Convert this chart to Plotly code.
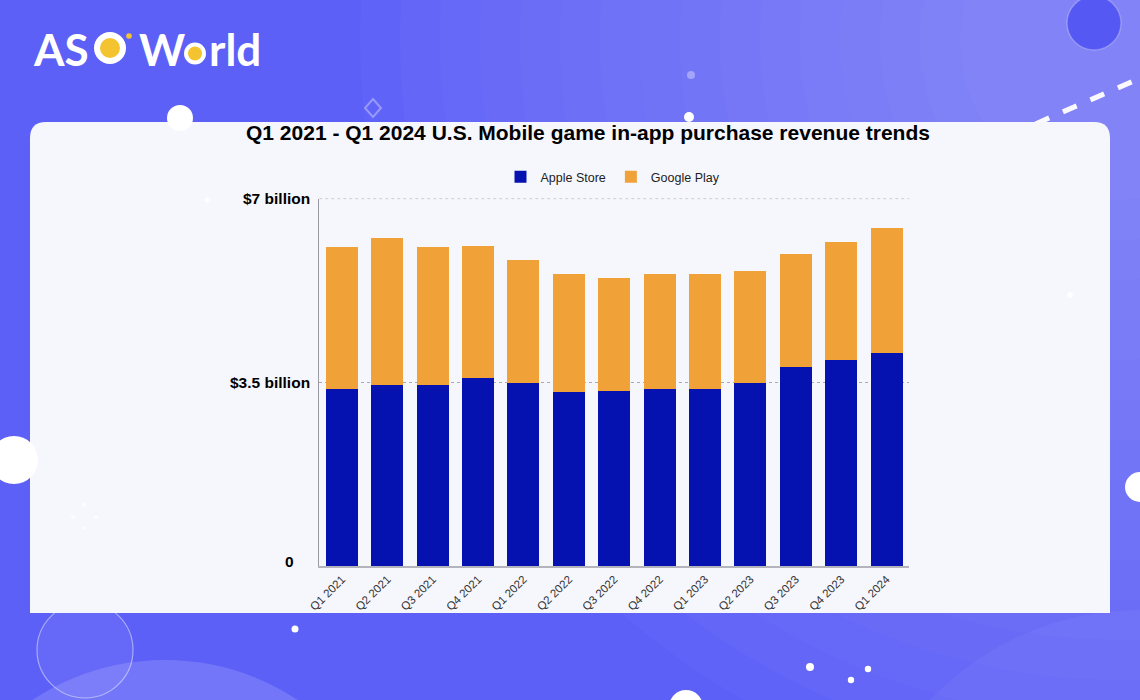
import plotly.graph_objects as go

W, H = 1140, 700

quarters = ["Q1 2021", "Q2 2021", "Q3 2021", "Q4 2021", "Q1 2022", "Q2 2022", "Q3 2022",
            "Q4 2022", "Q1 2023", "Q2 2023", "Q3 2023", "Q4 2023", "Q1 2024"]
apple_store = [3.38, 3.44, 3.44, 3.59, 3.49, 3.32, 3.33, 3.37, 3.37, 3.49, 3.80, 3.93, 4.05]
google_play = [2.70, 2.81, 2.63, 2.51, 2.34, 2.25, 2.15, 2.20, 2.20, 2.14, 2.15, 2.25, 2.39]
y_tick_vals = [0, 3.5, 7]
y_tick_text = ["0", "$3.5 billion", "$7 billion"]
title_text = "Q1 2021 - Q1 2024 U.S. Mobile game in-app purchase revenue trends"

BLUE = "#0612b0"
ORANGE = "#f0a238"
GRID = "#a9a9b4"
ARIAL = "Liberation Sans, Arial, sans-serif"


def px(x):
    return x / W


def py(y):
    return 1 - y / H


fig = go.Figure()
fig.add_trace(go.Bar(x=quarters, y=apple_store, name="Apple Store", marker_color=BLUE,
                     marker_line_width=0))
fig.add_trace(go.Bar(x=quarters, y=google_play, name="Google Play", marker_color=ORANGE,
                     marker_line_width=0))

shapes = []


def circle(cx, cy, r, fill, line_color=None, line_width=0, layer="below"):
    shapes.append(dict(type="circle", xref="paper", yref="paper",
                       x0=px(cx - r), x1=px(cx + r), y0=py(cy + r), y1=py(cy - r),
                       fillcolor=fill, line=dict(color=line_color or "rgba(0,0,0,0)", width=line_width),
                       layer=layer))


# background glow (approximate gradient)
for r in range(760, 150, -40):
    circle(1120, 40, r, "rgba(255,255,255,0.018)")
# bottom decorations
circle(1140, 900, 290, "rgba(255,255,255,0.04)")
circle(165, 900, 240, "rgba(255,255,255,0.14)")
circle(85, 650, 48, "rgba(255,255,255,0.06)", "rgba(255,255,255,0.45)", 1.2)
# top-right dark circle
circle(1094, 23, 27, "#5558f2", "rgba(255,255,255,0.25)", 1.5)
# dashed line
shapes.append(dict(type="line", xref="paper", yref="paper", x0=px(953), y0=py(160), x1=px(1145), y1=py(76),
                   line=dict(color="rgba(255,255,255,0.95)", width=5, dash="dash"), layer="below"))
# diamond outline
shapes.append(dict(type="path", xref="paper", yref="paper",
                   path="M %f,%f L %f,%f L %f,%f L %f,%f Z" % (px(373), py(99), px(381), py(108), px(373), py(117), px(365), py(108)),
                   line=dict(color="rgba(255,255,255,0.35)", width=2), fillcolor="rgba(0,0,0,0)", layer="below"))

# card with rounded top corners
x0c, x1c, y0c, y1c, rc = 30, 1110, 122, 613, 16
card_path = ("M %f,%f L %f,%f Q %f,%f %f,%f L %f,%f Q %f,%f %f,%f L %f,%f Z" % (
    px(x0c), py(y1c), px(x0c), py(y0c + rc), px(x0c), py(y0c), px(x0c + rc), py(y0c),
    px(x1c - rc), py(y0c), px(x1c), py(y0c), px(x1c), py(y0c + rc), px(x1c), py(y1c)))
shapes.append(dict(type="path", xref="paper", yref="paper", path=card_path,
                   fillcolor="#f6f7fd", line=dict(width=0), layer="below"))

# top dotted gridline (at the top of the value range)
shapes.append(dict(type="line", xref="x domain", yref="y", x0=0, x1=1,
                   y0=y_tick_vals[-1], y1=y_tick_vals[-1],
                   line=dict(color=GRID, width=1, dash="dot"), layer="below"))

# white dots
circle(180, 118, 13, "#ffffff")
circle(14, 460, 24, "#ffffff")
circle(1140, 487, 15, "#ffffff")
circle(686, 707, 17, "#ffffff")
circle(295, 629, 3.5, "#ffffff")
circle(810, 667, 4, "#ffffff")
circle(868, 669, 3.2, "#ffffff")
circle(851, 680, 3.2, "#ffffff")
circle(689, 117, 5, "#ffffff")
circle(691, 75, 4, "rgba(255,255,255,0.35)")
circle(84, 505, 2.2, "rgba(255,255,255,0.6)")
circle(73, 517, 2.2, "rgba(255,255,255,0.6)")
circle(96, 517, 2.2, "rgba(255,255,255,0.6)")
circle(84, 528, 2.2, "rgba(255,255,255,0.6)")
circle(1070, 295, 3, "rgba(255,255,255,0.8)")
circle(207, 200, 2.5, "rgba(255,255,255,0.8)")

# logo rings
circle(110, 48, 13, "#f4c430", "#ffffff", 6, layer="above")
circle(129, 36, 2.8, "#f4c430", layer="above")
circle(195, 53.5, 9, "#f4c430", "#ffffff", 4, layer="above")

annotations = []
LOGO = "Lato, Open Sans, sans-serif"
annotations.append(dict(text="<b>AS</b>", xref="paper", yref="paper", x=px(31), y=py(49),
                        xanchor="left", yanchor="middle", showarrow=False,
                        font=dict(family=LOGO, size=44, color="#ffffff")))
annotations.append(dict(text="<b>W</b>", xref="paper", yref="paper", x=px(137), y=py(49),
                        xanchor="left", yanchor="middle", showarrow=False,
                        font=dict(family=LOGO, size=44, color="#ffffff")))
annotations.append(dict(text="<b>rld</b>", xref="paper", yref="paper", x=px(207), y=py(49),
                        xanchor="left", yanchor="middle", showarrow=False,
                        font=dict(family=LOGO, size=44, color="#ffffff")))

# title
annotations.append(dict(text="<b>" + title_text + "</b>", xref="paper", yref="paper",
                        x=px(587.5), y=py(133), xanchor="center", yanchor="middle", showarrow=False,
                        font=dict(family=ARIAL, size=21, color="#000000")))

# y tick labels
for v, t in zip(y_tick_vals, y_tick_text):
    annotations.append(dict(text="<b>" + t + "</b>", xref="paper", yref="y", x=px(312), y=v,
                            xanchor="right", yanchor="middle", showarrow=False,
                            xshift=-16 if v == 0 else 0, yshift=5 if v == 0 else 0,
                            font=dict(family=ARIAL, size=15.5, color="#000000")))

fig.update_layout(
    width=W, height=H, autosize=False,
    margin=dict(l=0, r=0, t=0, b=0, pad=0, autoexpand=False),
    paper_bgcolor="#5d60f7",
    plot_bgcolor="rgba(0,0,0,0)",
    barmode="stack",
    bargap=0.295,
    shapes=shapes,
    annotations=annotations,
    showlegend=True,
    legend=dict(orientation="h", x=px(613), y=py(177), xanchor="center", yanchor="middle",
                bgcolor="rgba(0,0,0,0)", font=dict(family=ARIAL, size=12.5, color="#222222"),
                itemwidth=30, traceorder="normal"),
    xaxis=dict(domain=[px(319.3), px(909.2)], range=[-0.5, 12.5], showline=True,
               linecolor="#b4b4bc", linewidth=2, ticks="", tickangle=-45, automargin=False,
               tickfont=dict(family=ARIAL, size=11.5, color="#333333"),
               showgrid=False, zeroline=False),
    yaxis=dict(domain=[py(566), py(198.6)], range=[0, 7], tickvals=y_tick_vals, automargin=False,
               showticklabels=False, showgrid=True, gridcolor=GRID, griddash="dot",
               gridwidth=1, showline=True, linecolor="#9a9aa2", linewidth=1, zeroline=False,
               ticks=""),
    hovermode=False,
)

fig.write_html("out.html", config={"displayModeBar": False},
               post_script="document.body.style.margin='0';document.body.style.overflow='hidden';")
